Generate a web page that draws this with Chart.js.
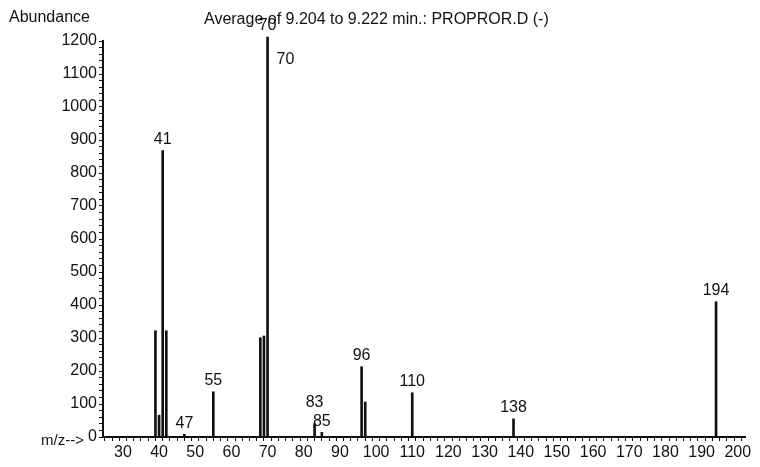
<!DOCTYPE html>
<html>
<head>
<meta charset="utf-8">
<script src="https://cdn.jsdelivr.net/npm/chart.js@4.4.1/dist/chart.umd.min.js"></script>
<style>
  html, body { margin: 0; padding: 0; background: #fff; }
  #wrap { width: 760px; height: 467px; }
</style>
</head>
<body>
<div id="wrap"><canvas id="spectrum"></canvas></div>
<script>
// m/z values and abundances
const massToCharge = [39, 40, 41, 42, 47, 55, 68, 69, 70, 83, 85, 96, 97, 110, 138, 194];
const abundance = [322, 66, 868, 322, 8, 137, 301, 306, 1212, 40, 14, 213, 106, 134, 55, 410];
// peaks that carry a number above them
const labelledPeaks = [41, 47, 55, 70, 83, 85, 96, 110, 138, 194];

const titleText = "Average of 9.204 to 9.222 min.: PROPROR.D (-)";
const fontName = "'Liberation Sans', Arial, sans-serif";

const points = massToCharge.map((mz, i) => ({ x: mz, y: abundance[i] }));

const textPlugin = {
  id: "spectrumText",
  afterDatasetsDraw(chart) {
    const ctx = chart.ctx;
    const xs = chart.scales.x;
    const ys = chart.scales.y;
    ctx.save();
    ctx.fillStyle = "#111";
    ctx.textBaseline = "middle";

    ctx.font = "16px " + fontName;
    ctx.textAlign = "left";
    ctx.fillText("Abundance", 9, 18);
    ctx.fillText(titleText, 204, 20);

    ctx.font = "15px " + fontName;
    ctx.textAlign = "right";
    ctx.fillText("m/z-->", 84, 441);

    // peak labels
    ctx.font = "16px " + fontName;
    ctx.textAlign = "center";
    ctx.textBaseline = "bottom";
    labelledPeaks.forEach((mz) => {
      const i = massToCharge.indexOf(mz);
      const px = xs.getPixelForValue(mz);
      let py = ys.getPixelForValue(abundance[i]) - 3;
      if (mz === 83) py -= 10;
      ctx.fillText(String(mz), px, py);
      if (mz === 70) {
        ctx.textAlign = "left";
        ctx.textBaseline = "middle";
        ctx.fillText("70", px + 9, 60);
        ctx.textAlign = "center";
        ctx.textBaseline = "bottom";
      }
    });
    ctx.restore();
  },
};

new Chart(document.getElementById("spectrum"), {
  type: "bar",
  data: {
    datasets: [
      {
        data: points,
        backgroundColor: "#111",
        borderWidth: 0,
        barThickness: 2,
        clip: false,
      },
    ],
  },
  options: {
    responsive: true,
    maintainAspectRatio: false,
    animation: false,
    layout: { padding: { left: 0, right: 15, top: 41, bottom: 0 } },
    plugins: {
      legend: { display: false },
      tooltip: { enabled: false },
      title: { display: false },
    },
    scales: {
      x: {
        type: "linear",
        min: 24.5,
        max: 202,
        offset: false,
        grid: { drawOnChartArea: false, tickLength: 4, color: "#111", tickWidth: 1 },
        border: { display: true, color: "#111", width: 2 },
        ticks: {
          stepSize: 2,
          includeBounds: false,
          autoSkip: false,
          maxRotation: 0,
          maxTicksLimit: 200,
          padding: 2,
          color: "#111",
          font: { family: fontName, size: 16 },
          callback: (v) => (v % 10 === 0 ? String(v) : ""),
        },
        afterFit: (scale) => {
          scale.height = 30;
        },
      },
      y: {
        min: 0,
        max: 1200,
        grid: { drawOnChartArea: false, tickLength: 4, color: "#111", tickWidth: 1 },
        border: { display: true, color: "#111", width: 2 },
        ticks: {
          stepSize: 20,
          autoSkip: false,
          maxTicksLimit: 100,
          padding: 2,
          color: "#111",
          font: { family: fontName, size: 16 },
          callback: (v) => (v % 100 === 0 ? String(v) : ""),
        },
        afterFit: (scale) => {
          scale.width = 103;
        },
      },
    },
  },
  plugins: [textPlugin],
});
</script>
</body>
</html>
